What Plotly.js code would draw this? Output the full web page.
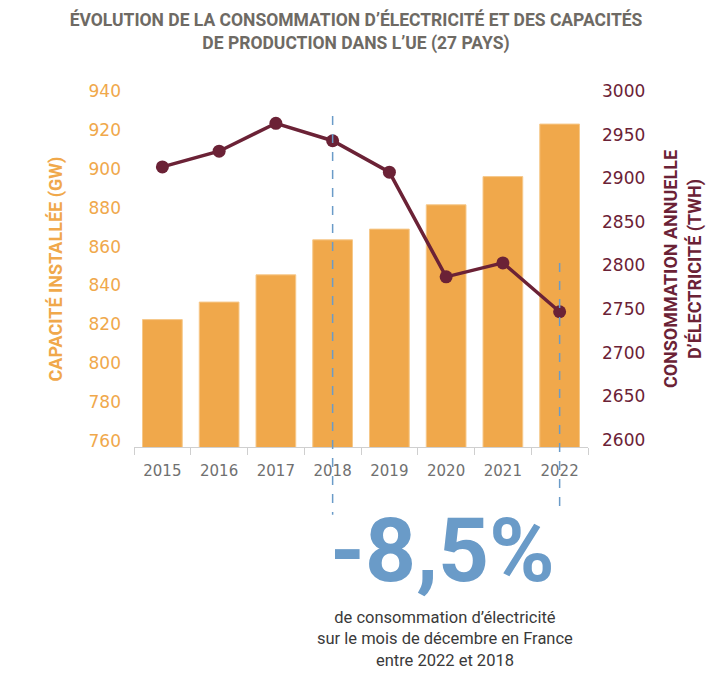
<!DOCTYPE html>
<html>
<head>
<meta charset="utf-8">
<script src="https://cdn.plot.ly/plotly-3.0.1.min.js"></script>
<style>html,body{margin:0;padding:0;background:#fff;}#chart{width:712px;height:681px;}</style>
</head>
<body>
<div id="chart"></div>
<script>
const years = ['2015','2016','2017','2018','2019','2020','2021','2022'];
const capacityGW = [822.5, 831.5, 845.5, 863.5, 869, 881.5, 896, 923];
const consumptionTWh = [2913, 2931, 2963, 2943, 2907, 2787, 2803, 2747];
const leftTicks = [760, 780, 800, 820, 840, 860, 880, 900, 920, 940];
const rightTicks = [2600, 2650, 2700, 2750, 2800, 2850, 2900, 2950, 3000];

const orange = '#F0A84B';
const maroon = '#6B2236';
const blue = '#6A9BC8';
const tickFont = 'DejaVu Sans';

const traces = [
  {
    type: 'bar', x: years, y: capacityGW, yaxis: 'y',
    marker: {color: orange, line: {color: '#F6C88A', width: 1}}
  },
  {
    type: 'scatter', mode: 'lines+markers', x: years, y: consumptionTWh, yaxis: 'y2',
    line: {color: maroon, width: 3.5},
    marker: {color: maroon, size: 13}
  }
];

const i2018 = years.indexOf('2018');
const i2022 = years.indexOf('2022');

const layout = {
  width: 712, height: 681,
  margin: {l: 134, r: 124, t: 91, b: 234},
  paper_bgcolor: '#fff', plot_bgcolor: '#fff',
  showlegend: false,
  bargap: 0.3,
  title: {
    text: 'ÉVOLUTION DE LA CONSOMMATION D’ÉLECTRICITÉ ET DES CAPACITÉS<br>DE PRODUCTION DANS L’UE (27 PAYS)',
    font: {family: 'Roboto', size: 17.5, color: '#6E6A64', weight: 'bold'},
    x: 0.5, xanchor: 'center', yref: 'container', y: 0.962, yanchor: 'top'
  },
  xaxis: {
    type: 'category',
    range: [-0.5, years.length - 0.5],
    autorange: false,
    showline: true, linecolor: '#CFCFCF', linewidth: 1,
    ticks: 'outside', tickson: 'boundaries', ticklen: 7, tickcolor: '#CFCFCF',
    tickfont: {family: tickFont, size: 15, color: '#707070'},
    tickangle: 0,
    ticklabelstandoff: 10,
    showgrid: false, zeroline: false
  },
  yaxis: {
    range: [757, 940],
    tickvals: leftTicks, ticktext: leftTicks.map(String),
    tickfont: {family: tickFont, size: 17, color: orange},
    showgrid: false, zeroline: false, showline: false,
    ticklabelstandoff: 12,
    title: {text: 'CAPACITÉ INSTALLÉE (GW)', font: {family: 'Roboto', size: 18, color: orange, weight: 'bold'}, standoff: 21}
  },
  yaxis2: {
    overlaying: 'y', side: 'right',
    range: [2592, 3000],
    tickvals: rightTicks, ticktext: rightTicks.map(String),
    tickfont: {family: tickFont, size: 17, color: maroon},
    showgrid: false, zeroline: false, showline: false,
    ticklabelstandoff: 13,
    title: {text: 'CONSOMMATION ANNUELLE<br>D’ÉLECTRICITÉ (TWH)', font: {family: 'Roboto', size: 18, color: maroon, weight: 'bold'}, standoff: 20}
  },
  shapes: [
    {type: 'line', xref: 'x', yref: 'paper', x0: i2018, x1: i2018, y0: 0.93, y1: -0.19,
     line: {color: blue, width: 1.5, dash: 'dash'}},
    {type: 'line', xref: 'x', yref: 'paper', x0: i2022, x1: i2022, y0: 0.517, y1: -0.19,
     line: {color: blue, width: 1.5, dash: 'dash'}}
  ],
  annotations: [
    {text: '-8,5%', xref: 'paper', yref: 'paper', x: 0.68, y: -0.29, xanchor: 'center', yanchor: 'middle',
     showarrow: false, font: {family: 'Roboto', size: 89, color: blue, weight: 'bold'}},
    {text: 'de consommation d’électricité<br>sur le mois de décembre en France<br>entre 2022 et 2018',
     xref: 'paper', yref: 'paper', x: 0.685, y: -0.539, xanchor: 'center', yanchor: 'middle',
     showarrow: false, align: 'center', font: {family: 'Roboto', size: 16.5, color: '#3A3A3A'}}
  ]
};

Plotly.newPlot('chart', traces, layout, {displayModeBar: false, staticPlot: true});
</script>
</body>
</html>
